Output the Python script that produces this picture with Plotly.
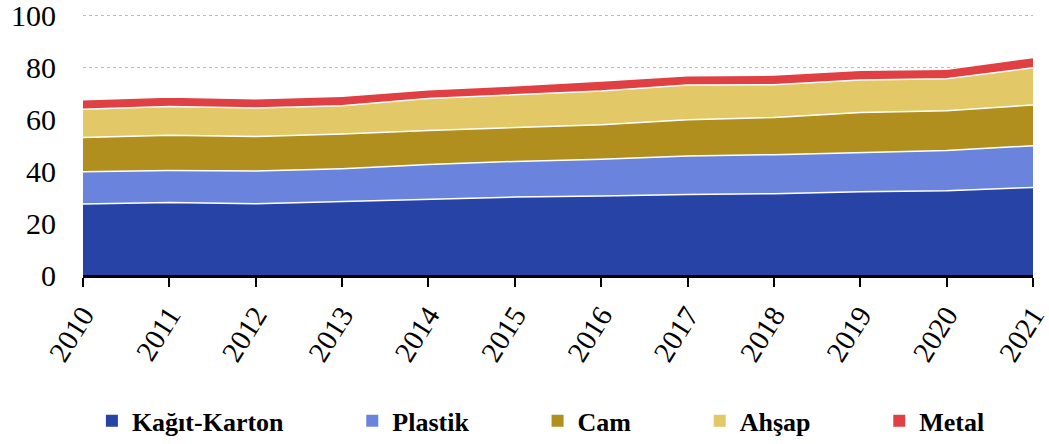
import plotly.graph_objects as go

years = [2010, 2011, 2012, 2013, 2014, 2015, 2016, 2017, 2018, 2019, 2020, 2021]
kagit_karton = [27.3, 27.9, 27.4, 28.2, 29.2, 30.0, 30.4, 31.0, 31.3, 32.0, 32.4, 33.7]
plastik = [12.4, 12.3, 12.6, 12.7, 13.3, 13.7, 14.1, 14.8, 15.0, 15.2, 15.5, 16.0]
cam = [13.2, 13.6, 13.3, 13.3, 13.1, 13.1, 13.3, 13.9, 14.3, 15.3, 15.3, 15.7]
ahsap = [10.9, 11.0, 10.9, 10.9, 12.3, 12.5, 13.0, 13.4, 12.6, 12.5, 12.3, 14.3]
metal = [3.6, 3.7, 3.6, 3.7, 3.4, 3.5, 3.8, 3.5, 3.7, 3.8, 3.6, 4.0]

series = [
    ("Kağıt-Karton", kagit_karton, "#2743A6"),
    ("Plastik", plastik, "#6A84DD"),
    ("Cam", cam, "#B08F1F"),
    ("Ahşap", ahsap, "#E2C866"),
    ("Metal", metal, "#E04043"),
]

FONT = "Liberation Serif, Times New Roman, serif"
PAD = "\u00a0" * 9 + "\u2009"

fig = go.Figure()
for name, vals, color in series:
    fig.add_trace(go.Scatter(
        x=years, y=vals, name=name, stackgroup="one", mode="lines",
        line=dict(color="white", width=1.5), fillcolor=color,
        showlegend=False, hoverinfo="skip",
    ))
for i, (name, vals, color) in enumerate(series):
    label = "<b>" + name + "</b>" + (PAD if i < len(series) - 1 else "")
    fig.add_trace(go.Scatter(
        x=[None], y=[None], name=label, mode="markers",
        marker=dict(symbol="square", size=12, color=color),
        showlegend=True,
    ))

fig.update_layout(
    width=1049, height=444,
    margin=dict(l=83, r=16, t=14, b=169, autoexpand=False),
    paper_bgcolor="white", plot_bgcolor="white",
    font=dict(family=FONT, color="black", size=30),
    showlegend=True,
    legend=dict(
        orientation="h", x=0.482, xanchor="center",
        yref="container", y=0.052, yanchor="middle",
        font=dict(family=FONT, size=26, color="black"),
        itemwidth=30, traceorder="normal",
    ),
    xaxis=dict(
        range=[2010, 2021], tickmode="array", tickvals=years,
        ticktext=[str(y) for y in years], tickangle=-58,
        showgrid=False, zeroline=False, automargin=False,
        showline=True, linecolor="black", linewidth=2.5,
        ticks="outside", ticklen=9, tickwidth=2, tickcolor="black",
        tickfont=dict(family=FONT, size=29),
        ticklabeloverflow="allow",
    ),
    yaxis=dict(
        range=[0, 100.4], tickmode="array", tickvals=[0, 20, 40, 60, 80, 100], automargin=False,
        showgrid=True, gridcolor="#BDBDBD", griddash="dot", gridwidth=1,
        zeroline=False, showline=False, ticks="",
        ticklabelstandoff=26,
        tickfont=dict(family=FONT, size=30),
        ticklabeloverflow="allow",
    ),
)

fig.write_html("out.html")
